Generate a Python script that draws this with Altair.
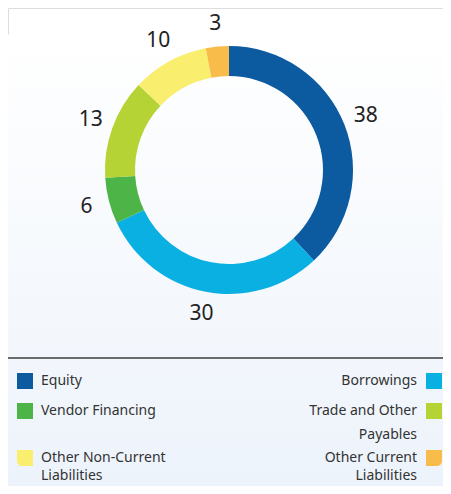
import altair as alt
import pandas as pd

# ---- data ----
categories = ["Equity", "Borrowings", "Vendor Financing", "Trade and Other Payables",
              "Other Non-Current Liabilities", "Other Current Liabilities"]
values = [38, 30, 6, 13, 10, 3]
colors = ["#0c5aa0", "#0ab0e2", "#4db548", "#b5d334", "#f9ee6e", "#f8bc4b"]
legend_lines = [["Equity"], ["Borrowings"], ["Vendor Financing"], ["Trade and Other", "Payables"],
                ["Other Non-Current", "Liabilities"], ["Other Current", "Liabilities"]]

W, H = 435, 478
CX, CY = 221, 162

slices = pd.DataFrame({"category": categories, "value": values, "idx": list(range(len(values)))})
color_scale = alt.Scale(domain=categories, range=colors)

# legend layout (two columns, three rows)
row_y = [373, 403, 450]
row_gap = [18, 24, 18]
sq_rows, txt_rows = [], []
for i, cat in enumerate(categories):
    col, row = i % 2, i // 2
    y = row_y[row]
    if col == 0:
        sx1, sx2, tx, al = 9, 25, 33, "left"
    else:
        sx1, sx2, tx, al = 418, 434, 409, "right"
    sq_rows.append({"category": cat, "idx": i, "x1": sx1, "x2": sx2, "y1": y - 8, "y2": y + 8})
    for k, line in enumerate(legend_lines[i]):
        txt_rows.append({"line": line, "x": tx, "y": y + k * row_gap[row], "align": al})
sq_df = pd.DataFrame(sq_rows)
txt_df = pd.DataFrame(txt_rows)

dummy = pd.DataFrame({"a": [0]})

bg = alt.Chart(dummy).mark_rect(
    cornerRadius=8,
    fill=alt.Gradient(gradient="linear",
                      stops=[alt.GradientStop(color="#ffffff", offset=0),
                             alt.GradientStop(color="#edf3fb", offset=1)],
                      x1=0, x2=0, y1=0, y2=1),
).encode(x=alt.value(-3), x2=alt.value(445), y=alt.value(25), y2=alt.value(483))

arcs = alt.Chart(slices).mark_arc(innerRadius=94, outerRadius=124, stroke=None).encode(
    theta=alt.Theta("value:Q", stack=True),
    order=alt.Order("idx:Q"),
    color=alt.Color("category:N", scale=color_scale, legend=None),
    x=alt.value(CX), y=alt.value(CY),
)

labels = alt.Chart(slices).mark_text(radius=147, fontSize=21, font="Noto Sans",
                                     color="#222222").encode(
    theta=alt.Theta("value:Q", stack=True),
    order=alt.Order("idx:Q"),
    text=alt.Text("value:Q"),
    x=alt.value(CX), y=alt.value(CY),
)

sep = alt.Chart(dummy).mark_rule(color="#3c3c3c", strokeWidth=1.5).encode(
    x=alt.value(-3), x2=alt.value(445), y=alt.value(350))

def sq_layer(cond, **kw):
    return alt.Chart(sq_df).transform_filter(cond).mark_rect(**kw).encode(
        x=alt.X("x1:Q", scale=None), x2="x2:Q",
        y=alt.Y("y1:Q", scale=None), y2="y2:Q",
        color=alt.Color("category:N", scale=color_scale, legend=None),
    )

squares = sq_layer("datum.idx < 4")
sq_yellow = sq_layer("datum.idx == 4", cornerRadiusBottomLeft=5)
sq_orange = sq_layer("datum.idx == 5", cornerRadiusBottomRight=5)

def text_layer(al):
    return alt.Chart(txt_df).transform_filter(f"datum.align == '{al}'").mark_text(
        align=al, baseline="middle", fontSize=14, font="Noto Sans", color="#333333").encode(
        x=alt.X("x:Q", scale=None), y=alt.Y("y:Q", scale=None), text="line:N")

chart = alt.layer(bg, arcs, labels, sep, squares, sq_yellow, sq_orange,
                  text_layer("left"), text_layer("right")).properties(
    width=W, height=H, autosize=alt.AutoSizeParams(type="none"), padding=0,
).configure_view(stroke=None).configure(background="#ffffff")

chart.save("out.html", embed_options={"renderer": "svg", "actions": False})
